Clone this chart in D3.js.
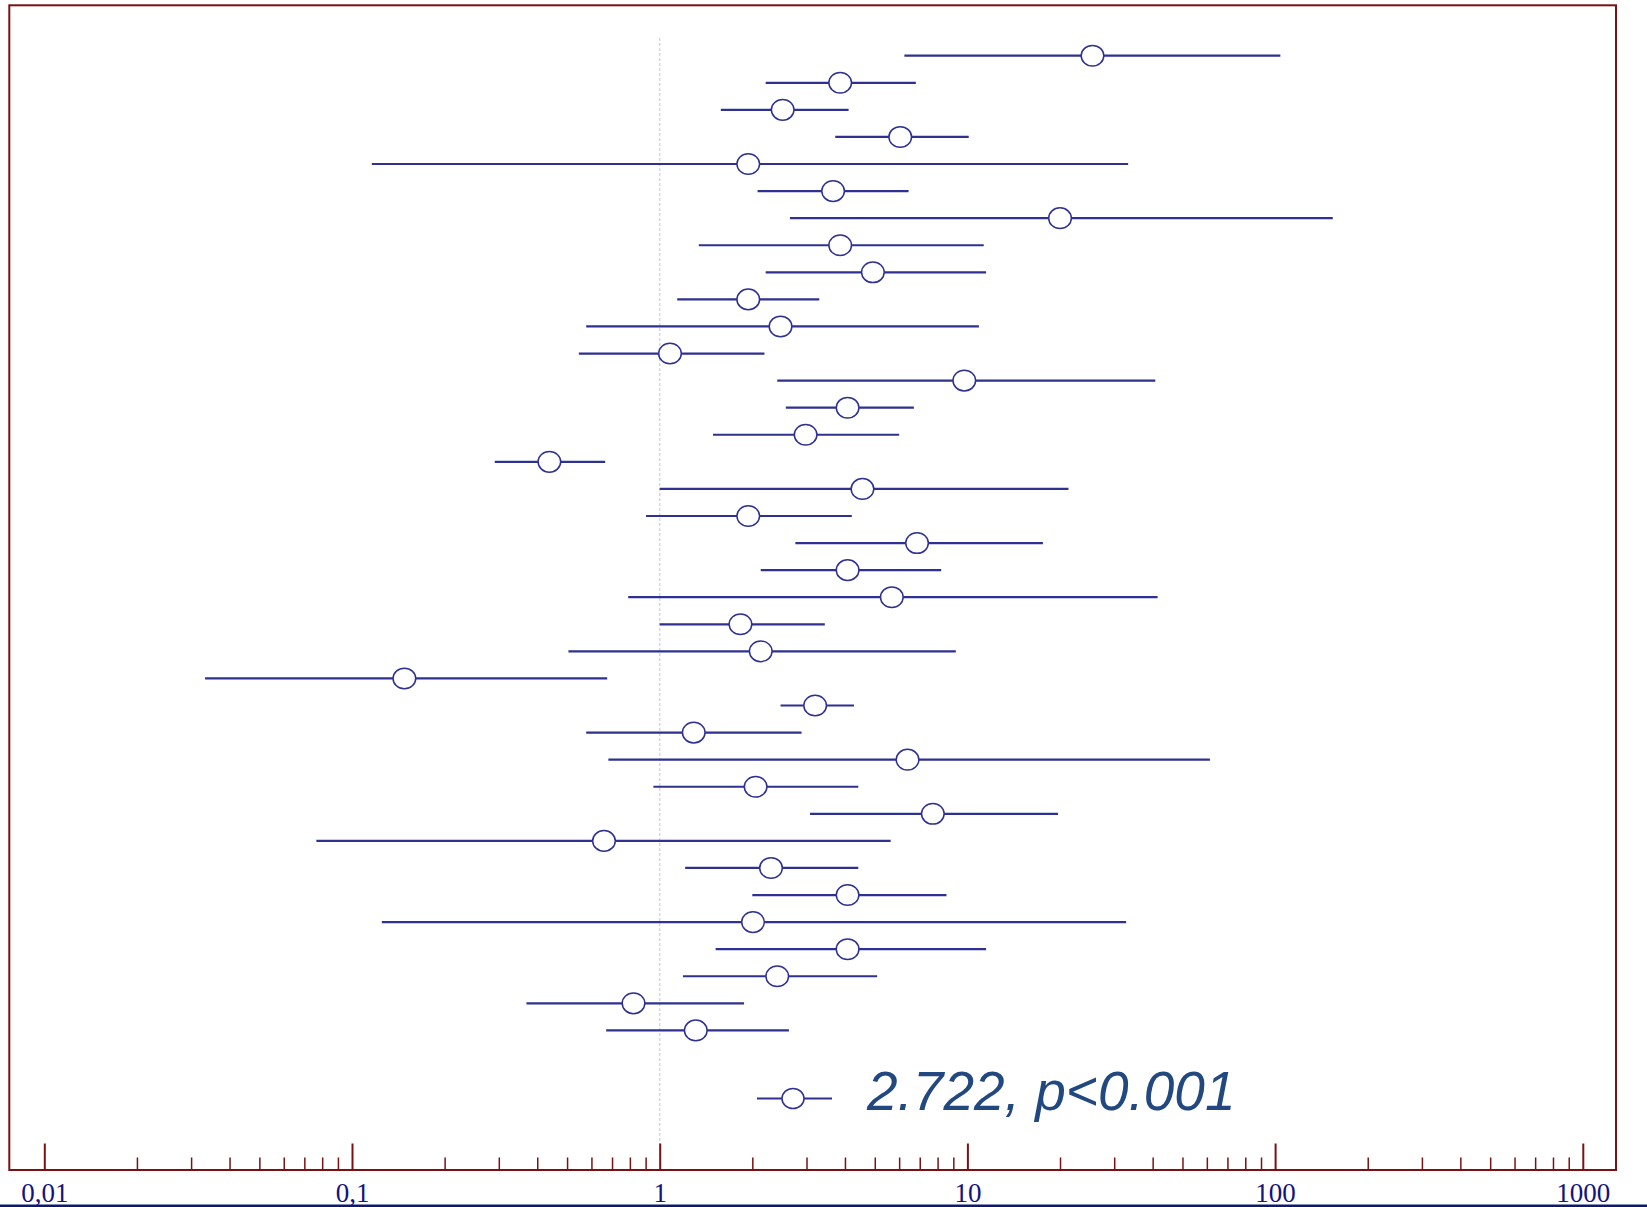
<!DOCTYPE html>
<html>
<head>
<meta charset="utf-8">
<script src="https://cdn.jsdelivr.net/npm/d3@7"></script>
<style>
  body { margin: 0; background: #fff; }
  svg { display: block; }
</style>
</head>
<body>
<div id="chart-area"></div>
<script>
// study rows, top to bottom
var studies = d3.range(1, 38).map(function(i) { return "Study " + i; });

var estimate = [25.5, 3.86, 2.51, 6.05, 1.94, 3.66, 20.0, 3.86, 4.93, 1.94,
                2.47, 1.08, 9.77, 4.08, 2.98, 0.438, 4.56, 1.94, 6.86, 4.08,
                5.68, 1.83, 2.13, 0.148, 3.20, 1.29, 6.39, 2.05, 7.72, 0.659,
                2.30, 4.08, 2.01, 4.08, 2.41, 0.822, 1.31];
var lower = [6.24, 2.21, 1.58, 3.72, 0.116, 2.08, 2.65, 1.34, 2.21, 1.14,
             0.577, 0.546, 2.41, 2.57, 1.49, 0.291, 1.0, 0.903, 2.76, 2.13,
             0.79, 1.0, 0.505, 0.0333, 2.47, 0.577, 0.681, 0.954, 3.08, 0.0766,
             1.21, 2.00, 0.125, 1.52, 1.19, 0.369, 0.670];
var upper = [104, 6.8, 4.11, 10.1, 33.3, 6.44, 154, 11.3, 11.5, 3.30,
             10.9, 2.19, 40.8, 6.70, 6.00, 0.665, 21.3, 4.21, 17.6, 8.22,
             41.5, 3.44, 9.17, 0.675, 4.28, 2.89, 61.4, 4.42, 19.7, 5.63,
             4.42, 8.55, 32.8, 11.5, 5.09, 1.88, 2.63];

var majorTicks = [0.01, 0.1, 1, 10, 100, 1000];
var pooledLabel = "2.722, p<0.001";

var W = 1647, H = 1207;
var lineColor = "#2e3192";
var frameColor = "#7b1113";

var svg = d3.select("#chart-area")
    .append("svg")
        .attr("width", W)
        .attr("height", H);

var x = d3.scaleLog()
    .domain([0.01, 1000])
    .range([44.3, 1582.8]);

var y = d3.scalePoint()
    .domain(studies)
    .range([55.7, 1030.4]);

var baseY = 1170;

// reference line at 1
svg.append("line")
    .attr("x1", x(1)).attr("x2", x(1))
    .attr("y1", 38).attr("y2", baseY)
    .attr("stroke", "#d6d6ea")
    .attr("stroke-width", 1.5)
    .attr("stroke-dasharray", "3,2");

// frame
svg.append("rect")
    .attr("x", 9.3).attr("y", 5.3)
    .attr("width", 1616 - 9.3)
    .attr("height", baseY - 5.3)
    .attr("fill", "none")
    .attr("stroke", frameColor)
    .attr("stroke-width", 2);

// minor ticks
var minor = svg.append("g")
    .attr("transform", "translate(0," + baseY + ")")
    .call(d3.axisBottom(x)
        .tickValues(x.ticks().filter(function(t) { return majorTicks.indexOf(t) < 0; }))
        .tickSize(-12.5)
        .tickFormat(""));
minor.select(".domain").remove();
minor.selectAll("line").attr("stroke", frameColor).attr("stroke-width", 1.5);

// bottom rule
svg.append("rect")
    .attr("x", 0).attr("y", 1204.5)
    .attr("width", W).attr("height", 2.5)
    .attr("fill", "#0c1a6e");

// major ticks with labels
var major = svg.append("g")
    .attr("transform", "translate(0," + baseY + ")")
    .call(d3.axisBottom(x)
        .tickValues(majorTicks)
        .tickSize(-26.5)
        .tickPadding(13)
        .tickFormat(function(d) { return String(d).replace(".", ","); }));
major.select(".domain").remove();
major.selectAll("line").attr("stroke", frameColor).attr("stroke-width", 2);
major.selectAll("text")
    .attr("fill", "#14147c")
    .style("font-family", "'Liberation Serif', 'Times New Roman', serif")
    .style("font-size", "27px");

// confidence intervals
svg.selectAll("line.ci")
    .data(studies)
    .enter()
    .append("line")
        .attr("class", "ci")
        .attr("x1", function(d, i) { return x(lower[i]); })
        .attr("x2", function(d, i) { return x(upper[i]); })
        .attr("y1", function(d) { return y(d); })
        .attr("y2", function(d) { return y(d); })
        .attr("stroke", lineColor)
        .attr("stroke-width", 2.2);

svg.selectAll("ellipse.pt")
    .data(studies)
    .enter()
    .append("ellipse")
        .attr("class", "pt")
        .attr("cx", function(d, i) { return x(estimate[i]); })
        .attr("cy", function(d) { return y(d); })
        .attr("rx", 11.3)
        .attr("ry", 10.3)
        .attr("fill", "#fff")
        .attr("stroke", lineColor)
        .attr("stroke-width", 1.5);

// legend
var leg = svg.append("g");
leg.append("line")
    .attr("x1", 757).attr("x2", 832)
    .attr("y1", 1098.5).attr("y2", 1098.5)
    .attr("stroke", lineColor)
    .attr("stroke-width", 2.2);
leg.append("ellipse")
    .attr("cx", 793).attr("cy", 1098.5)
    .attr("rx", 11).attr("ry", 10)
    .attr("fill", "#fff")
    .attr("stroke", lineColor)
    .attr("stroke-width", 1.5);
leg.append("text")
    .attr("x", 867).attr("y", 1110)
    .attr("fill", "#22497f")
    .style("font-family", "'Liberation Sans', Arial, sans-serif")
    .style("font-style", "italic")
    .style("font-size", "55px")
    .text(pooledLabel);
</script>
</body>
</html>
